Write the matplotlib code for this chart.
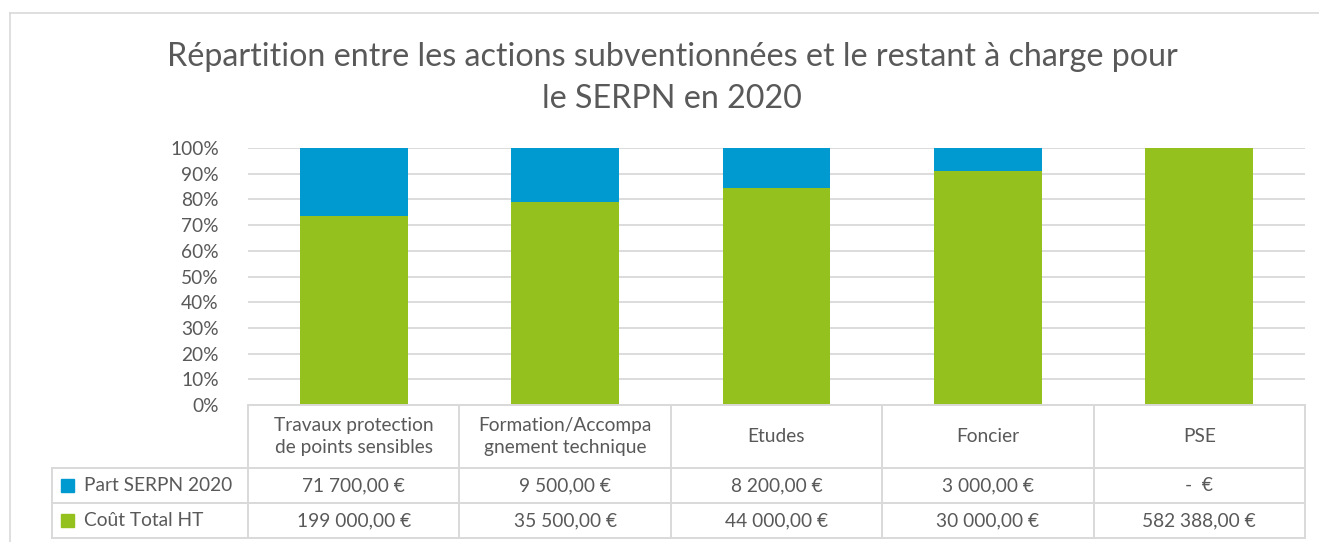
import numpy as np
import matplotlib
matplotlib.use("Agg")
import matplotlib.pyplot as plt
from matplotlib.lines import Line2D
from matplotlib.patches import Rectangle

# data
categories = ["Travaux protection\nde points sensibles", "Formation/Accompa\ngnement technique",
              "Etudes", "Foncier", "PSE"]
part_serpn = [71700, 9500, 8200, 3000, 0]
cout_total = [199000, 35500, 44000, 30000, 582388]
part_labels = ["71 700,00 €", "9 500,00 €", "8 200,00 €", "3 000,00 €", "-  €"]
total_labels = ["199 000,00 €", "35 500,00 €", "44 000,00 €", "30 000,00 €", "582 388,00 €"]
series_names = ["Part SERPN 2020", "Coût Total HT"]
yticks = [0, 10, 20, 30, 40, 50, 60, 70, 80, 90, 100]

BLUE = "#0099D0"
GREEN = "#95C11F"
GRID = "#D9D9D9"
TXT = "#595959"
FONT = "Lato"
FS = 13.8

W, H = 1319, 542
fig = plt.figure(figsize=(W / 100, H / 100), dpi=100)
fig.patch.set_facecolor("white")
plt.rcParams["font.family"] = [FONT, "DejaVu Sans"]

# chart frame (cropped on right / bottom)
fig.add_artist(Line2D([10 / W, 1], [1 - 13 / H, 1 - 13 / H], color=GRID, lw=1.2))
fig.add_artist(Line2D([10 / W, 10 / W], [0, 1 - 13 / H], color=GRID, lw=1.2))

fig.text(672 / W, 1 - 57 / H, "Répartition entre les actions subventionnées et le restant à charge pour",
         ha="center", va="center", fontsize=23.2, color=TXT)
fig.text(672 / W, 1 - 99 / H, "le SERPN en 2020", ha="center", va="center", fontsize=23.2, color=TXT)

# plot area
x0, x1, yb, yt = 248, 1305, 405, 148
ax = fig.add_axes([x0 / W, 1 - yb / H, (x1 - x0) / W, (yb - yt) / H])
tot = np.array(part_serpn) + np.array(cout_total)
g_pct = np.array(cout_total) / tot * 100
b_pct = np.array(part_serpn) / tot * 100
x = np.arange(len(categories))
ax.bar(x, g_pct, width=0.51, color=GREEN, zorder=3)
ax.bar(x, b_pct, bottom=g_pct, width=0.51, color=BLUE, zorder=3)
ax.set_xlim(-0.5, len(categories) - 0.5)
ax.set_ylim(0, 100)
ax.set_yticks(yticks)
ax.set_yticklabels([f"{v}%" for v in yticks], fontsize=FS, color=TXT)
ax.set_xticks([])
ax.tick_params(axis="y", length=0, pad=21)
for v in yticks:
    ax.axhline(v, color=GRID, lw=1.3, zorder=1)
for s in ax.spines.values():
    s.set_visible(False)

# data table
tl, tb = 52, 538
cw = (x1 - x0) / len(categories)
left_data = -0.5 - (x0 - tl) / cw
axt = fig.add_axes([tl / W, 1 - tb / H, (x1 - tl) / W, (tb - yb) / H])
axt.set_xlim(left_data, len(categories) - 0.5)
axt.set_ylim(tb, yb)
axt.axis("off")
rows = [405, 468, 503, 538]
lc = dict(color=GRID, lw=1.4, clip_on=False)
axt.plot([-0.5, len(categories) - 0.5], [rows[0], rows[0]], **lc)
for r in rows[1:]:
    axt.plot([left_data, len(categories) - 0.5], [r, r], **lc)
for i in range(len(categories) + 1):
    axt.plot([i - 0.5, i - 0.5], [rows[0], rows[-1]], **lc)
axt.plot([left_data, left_data], [rows[1], rows[-1]], **lc)

for i, c in enumerate(categories):
    axt.text(i, (rows[0] + rows[1]) / 2, c, ha="center", va="center", fontsize=FS,
             color=TXT, linespacing=1.4)
    axt.text(i, (rows[1] + rows[2]) / 2, part_labels[i], ha="center", va="center",
             fontsize=FS, color=TXT)
    axt.text(i, (rows[2] + rows[3]) / 2, total_labels[i], ha="center", va="center",
             fontsize=FS, color=TXT)

sq = 13 / cw
for k, (name, col) in enumerate(zip(series_names, [BLUE, GREEN])):
    yc = (rows[k + 1] + rows[k + 2]) / 2
    axt.add_patch(Rectangle((left_data + 9 / cw, yc - 6.5), sq, 13, color=col, clip_on=False))
    axt.text(left_data + 32 / cw, yc, name, ha="left", va="center", fontsize=FS, color=TXT)

fig.savefig("out.png", dpi=100)
